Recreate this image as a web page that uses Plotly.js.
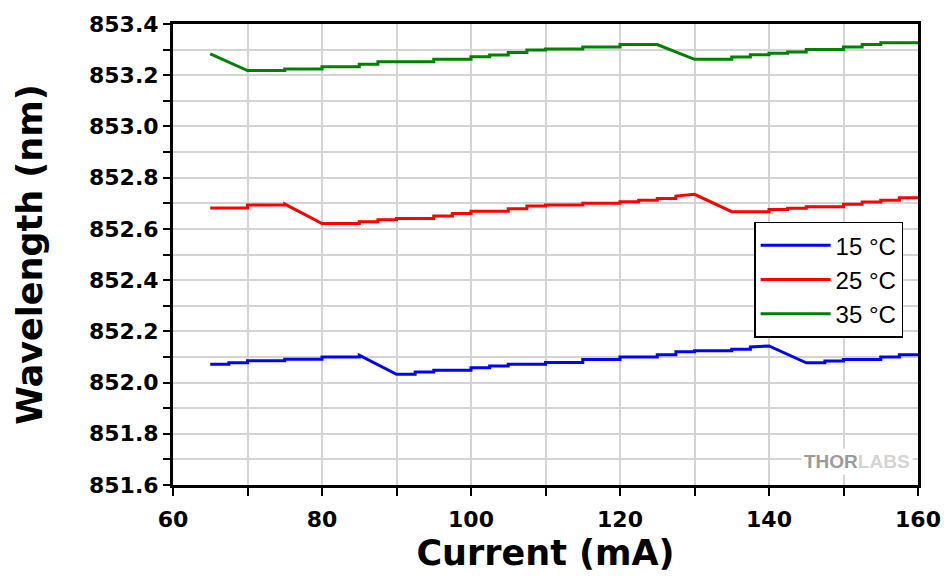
<!DOCTYPE html>
<html>
<head>
<meta charset="utf-8">
<script src="https://cdn.plot.ly/plotly-3.0.1.min.js"></script>
<style>html,body{margin:0;padding:0;background:#fff;}#chart{width:946px;height:579px;}</style>
</head>
<body>
<div id="chart"></div>
<script>
// Series names
var seriesNames = ["15 \u00B0C", "25 \u00B0C", "35 \u00B0C"];

// 15 °C : current (mA) and wavelength (nm)
var current15 = [65, 67.5, 67.5, 70, 70, 75, 75, 80, 80, 85, 85, 90, 92.5, 92.5, 95, 95, 100, 100, 102.5, 102.5, 105, 105, 110, 110, 115, 115, 120, 120, 125, 125, 127.5, 127.5, 130, 130, 135, 135, 137.5, 137.5, 140, 145, 147.5, 147.5, 150, 150, 155, 155, 157.5, 157.5, 160];
var wl15 = [852.071, 852.071, 852.077, 852.077, 852.085, 852.085, 852.091, 852.091, 852.100, 852.100, 852.107, 852.032, 852.032, 852.041, 852.041, 852.048, 852.048, 852.058, 852.058, 852.065, 852.065, 852.071, 852.071, 852.078, 852.078, 852.090, 852.090, 852.100, 852.100, 852.109, 852.109, 852.120, 852.120, 852.124, 852.124, 852.130, 852.130, 852.139, 852.143, 852.077, 852.077, 852.084, 852.084, 852.090, 852.090, 852.100, 852.100, 852.109, 852.109];

// 25 °C
var current25 = [65, 70, 70, 75, 75, 80, 85, 85, 87.5, 87.5, 90, 90, 95, 95, 97.5, 97.5, 100, 100, 105, 105, 107.5, 107.5, 110, 110, 115, 115, 120, 120, 122.5, 122.5, 125, 125, 127.5, 127.5, 130, 135, 140, 140, 142.5, 142.5, 145, 145, 150, 150, 152.5, 152.5, 155, 155, 157.5, 157.5, 160];
var wl25 = [852.682, 852.682, 852.693, 852.693, 852.697, 852.621, 852.621, 852.628, 852.628, 852.636, 852.636, 852.641, 852.641, 852.650, 852.650, 852.660, 852.660, 852.669, 852.669, 852.679, 852.679, 852.689, 852.689, 852.693, 852.693, 852.700, 852.700, 852.706, 852.706, 852.712, 852.712, 852.719, 852.719, 852.728, 852.735, 852.667, 852.667, 852.676, 852.676, 852.681, 852.681, 852.686, 852.686, 852.696, 852.696, 852.705, 852.705, 852.712, 852.712, 852.722, 852.722];

// 35 °C
var current35 = [65, 70, 75, 75, 80, 80, 85, 85, 87.5, 87.5, 95, 95, 100, 100, 102.5, 102.5, 105, 105, 107.5, 107.5, 110, 110, 115, 115, 120, 120, 125, 130, 135, 135, 137.5, 137.5, 140, 140, 142.5, 142.5, 145, 145, 150, 150, 152.5, 152.5, 155, 155, 160];
var wl35 = [853.283, 853.218, 853.218, 853.224, 853.224, 853.233, 853.233, 853.243, 853.243, 853.253, 853.253, 853.262, 853.262, 853.272, 853.272, 853.279, 853.279, 853.289, 853.289, 853.298, 853.298, 853.302, 853.302, 853.310, 853.310, 853.320, 853.320, 853.262, 853.262, 853.271, 853.271, 853.280, 853.280, 853.286, 853.286, 853.291, 853.291, 853.300, 853.300, 853.310, 853.310, 853.320, 853.320, 853.327, 853.327];

// Axis ticks
var xTickVals = [60, 80, 100, 120, 140, 160];
var yTickVals = [851.6, 851.8, 852.0, 852.2, 852.4, 852.6, 852.8, 853.0, 853.2, 853.4];
var yTickText = ["851.6", "851.8", "852.0", "852.2", "852.4", "852.6", "852.8", "853.0", "853.2", "853.4"];

var colors = ["#0000ff", "#ff0000", "#008000"];

var traces = [
  {x: current15, y: wl15, name: seriesNames[0]},
  {x: current25, y: wl25, name: seriesNames[1]},
  {x: current35, y: wl35, name: seriesNames[2]}
].map(function (t, i) {
  t.type = "scatter";
  t.mode = "lines";
  t.line = {color: colors[i], width: 3};
  t.hoverinfo = "x+y";
  return t;
});

var tickFont = {family: "DejaVu Sans", size: 22, color: "#000", weight: "bold"};

var layout = {
  width: 946,
  height: 579,
  margin: {l: 173, r: 28, t: 24, b: 94},
  paper_bgcolor: "#ffffff",
  plot_bgcolor: "#ffffff",
  showlegend: true,
  legend: {
    x: 0.78, y: 0.571, xanchor: "left", yanchor: "top",
    bgcolor: "#ffffff", bordercolor: "#000000", borderwidth: 1.5,
    font: {family: "Liberation Sans, Arial, sans-serif", size: 24, color: "#000"},
    itemwidth: 70,
    tracegroupgap: 0
  },
  xaxis: {
    range: [60, 160],
    tickmode: "array",
    tickvals: xTickVals,
    ticktext: xTickVals.map(String),
    ticks: "outside", ticklen: 8, tickwidth: 2, tickcolor: "#000",
    minor: {dtick: 10, ticks: "outside", ticklen: 8, tickwidth: 2, tickcolor: "#000", showgrid: true, gridcolor: "#d4d4d4", gridwidth: 2},
    showgrid: true, gridcolor: "#d4d4d4", gridwidth: 2,
    showline: true, linecolor: "#000", linewidth: 3, mirror: true,
    zeroline: false,
    tickfont: tickFont,
    ticklabelstandoff: 5,
    title: {text: "Current (mA)", font: {family: "DejaVu Sans", size: 35, color: "#000", weight: "bold"}, standoff: 10}
  },
  yaxis: {
    range: [851.6, 853.4],
    tickmode: "array",
    tickvals: yTickVals,
    ticktext: yTickText,
    ticks: "outside", ticklen: 7, tickwidth: 2, tickcolor: "#000",
    minor: {dtick: 0.1, ticks: "outside", ticklen: 7, tickwidth: 2, tickcolor: "#000", showgrid: true, gridcolor: "#d4d4d4", gridwidth: 2},
    showgrid: true, gridcolor: "#d4d4d4", gridwidth: 2,
    showline: true, linecolor: "#000", linewidth: 3, mirror: true,
    zeroline: false,
    tickfont: tickFont,
    title: {text: "Wavelength (nm)", font: {family: "DejaVu Sans", size: 35, color: "#000", weight: "bold"}, standoff: 36}
  },
  annotations: [
    {xref: "paper", yref: "paper", x: 0.843, y: 0.052, xanchor: "left", yanchor: "middle",
     text: "THOR<span style='color:#d4d4d4'>LABS</span>", showarrow: false, bgcolor: "#ffffff", borderpad: 2,
     font: {family: "Liberation Sans, Arial, sans-serif", size: 19, color: "#9a9a9a", weight: "bold"}}
  ]
};

Plotly.newPlot("chart", traces, layout, {displayModeBar: false, staticPlot: true});
</script>
</body>
</html>
